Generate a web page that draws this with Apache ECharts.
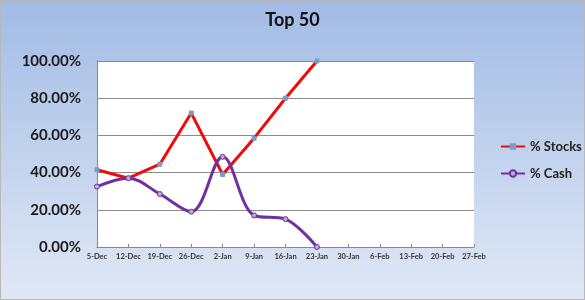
<!DOCTYPE html>
<html><head><meta charset="utf-8">
<script src="https://cdn.jsdelivr.net/npm/echarts@6/dist/echarts.min.js"></script>
<style>html,body{margin:0;padding:0;}#c{width:583px;height:298px;border:1px solid #b8b8b8;}</style>
</head><body><div id="c"></div>
<script>
const categories = ['5-Dec','12-Dec','19-Dec','26-Dec','2-Jan','9-Jan','16-Jan','23-Jan','30-Jan','6-Feb','13-Feb','20-Feb','27-Feb'];
const stocks = [0.415, 0.37, 0.445, 0.72, 0.39, 0.585, 0.80, 1.00, null, null, null, null, null];
const cash = [0.325, 0.37, 0.285, 0.19, 0.485, 0.17, 0.15, 0.00, null, null, null, null, null];
const FONT = 'Lato, "Open Sans", sans-serif';
const chart = echarts.init(document.getElementById('c'));
chart.setOption({
  backgroundColor: new echarts.graphic.LinearGradient(0,0,0,1,[{offset:0,color:'#a2bbe5'},{offset:1,color:'#e0e8f5'}]),
  title: {text:'Top 50', left:'center', top:5, textStyle:{fontFamily:FONT, fontSize:18, fontWeight:'bold', color:'#111'}},
  grid: {left:96, right:110, top:60, bottom:52, show:true, backgroundColor:'#ffffff', borderWidth:0},
  legend: {orient:'vertical', left:494, top:134, itemGap:14, itemWidth:24, itemHeight:8,
    textStyle:{fontFamily:FONT, fontSize:13, fontWeight:'bold', color:'#222'},
    data:['% Stocks','% Cash']},
  xAxis: {type:'category', data:categories, boundaryGap:false,
    axisLine:{show:true, lineStyle:{color:'#888'}},
    axisTick:{show:true, inside:true, length:3, lineStyle:{color:'#888'}},
    axisLabel:{interval:0, fontFamily:FONT, fontSize:7.5, fontWeight:'bold', color:'#333', margin:6},
    splitLine:{show:false}},
  yAxis: {type:'value', min:0, max:1, interval:0.2,
    axisLine:{show:true, lineStyle:{color:'#888'}},
    axisTick:{show:false},
    axisLabel:{fontFamily:FONT, fontSize:15, fontWeight:'bold', color:'#1a1a1a', margin:16,
      formatter: v => (v*100).toFixed(2) + '%'},
    splitLine:{show:true, lineStyle:{color:'#8c8c8c', width:1}}},
  series: [
    {name:'% Stocks', type:'line', data:stocks, smooth:false, symbol:'rect', symbolSize:4,
     lineStyle:{color:'#f00a0a', width:3}, itemStyle:{color:'#7d9ac4', borderColor:'#7d9ac4'}},
    {name:'% Cash', type:'line', data:cash, smooth:0.35, symbol:'circle', symbolSize:5,
     lineStyle:{color:'#7030a0', width:3}, itemStyle:{color:'#c0a8d8', borderColor:'#7030a0', borderWidth:1}}
  ]
});
</script></body></html>
